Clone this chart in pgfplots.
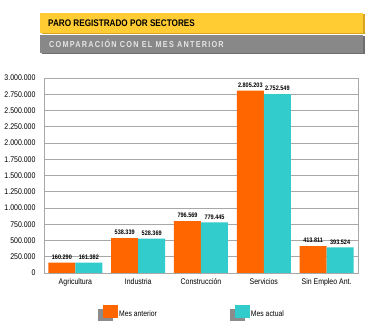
\documentclass[border=0pt]{standalone}
\usepackage{pgfplots}
\pgfplotsset{compat=1.18}
\usepackage{fontspec}
\setmainfont{Liberation Sans}[FakeStretch=0.85]
\definecolor{cOrange}{HTML}{FF6600}
\definecolor{cCyan}{HTML}{33CCCC}
\definecolor{cYellow}{HTML}{FFCC33}
\definecolor{cYellowDark}{HTML}{D9A521}
\definecolor{cGrayBar}{HTML}{888888}
\definecolor{cGrayDark}{HTML}{6E6E6E}
\definecolor{cGrid}{HTML}{A8A8A8}
\definecolor{cShadow}{HTML}{8C8C8C}
\begin{document}
\begin{tikzpicture}
\useasboundingbox[fill=white] (0bp,0bp) rectangle (374bp,335bp);
% banners
\fill[cYellowDark] (41.5bp,300.5bp) rectangle (364.5bp,320.5bp);
\fill[cYellow] (40bp,302bp) rectangle (363bp,322bp);
\node[anchor=west, inner sep=0pt, font=\fontsize{9.6bp}{10bp}\selectfont\bfseries] at (48bp,311.5bp) {PARO REGISTRADO POR SECTORES};
\fill[cGrayDark] (41.5bp,280.5bp) rectangle (364.5bp,298.5bp);
\fill[cGrayBar] (40bp,282bp) rectangle (363bp,300bp);
\node[anchor=west, inner sep=0pt, text=white!90!black, font=\fontsize{8.6bp}{9bp}\selectfont\bfseries] at (49bp,291bp) {\addfontfeature{LetterSpace=14}COMPARACIÓN CON EL MES ANTERIOR};
\begin{axis}[
  at={(44bp,62bp)}, anchor=south west, scale only axis,
  width=314bp, height=195bp,
  xmin=-0.5, xmax=4.5, ymin=0, ymax=3000000,
  xtick={0,1,2,3,4},
  xticklabels={Agricultura,Industria,Construcción,Servicios,Sin Empleo Ant.},
  ytick={0,250000,500000,750000,1000000,1250000,1500000,1750000,2000000,2250000,2500000,2750000,3000000},
  scaled y ticks=false,
  yticklabel style={xshift=-5bp, /pgf/number format/.cd, fixed, 1000 sep={.}, assume math mode=true},
  xticklabel style={yshift=-2bp},
  tick label style={font=\fontsize{8.2bp}{9bp}\selectfont},
  ymajorgrids, grid style={cGrid, line width=0.7bp},
  axis line style={cGrid, line width=0.7bp},
  major tick length=0pt,
  ybar=0pt, bar width=27bp,
  point meta=explicit symbolic,
  nodes near coords,
  nodes near coords style={font=\fontsize{6.5bp}{7bp}\selectfont\bfseries, inner sep=1bp, yshift=2bp},
  legend columns=2,
  legend image code/.code={
    \fill[cShadow] (0bp,-7bp) rectangle (15bp,5bp);
    \fill (5bp,-3.5bp) rectangle (20bp,9.5bp);
  },
  legend style={draw=none, fill=none, at={(0.172,-0.205)}, anchor=west,
    inner sep=0pt, font=\fontsize{8bp}{9bp}\selectfont,
    nodes={inner sep=1bp},
    /tikz/every even column/.append style={column sep=72bp}},
]
\addplot[fill=cOrange, draw=none] coordinates {
  (0,160290) [160.290]
  (1,538339) [538.339]
  (2,796569) [796.569]
  (3,2805203) [2.805.203]
  (4,413811) [413.811]
};
\addlegendentry{Mes anterior}
\addplot[fill=cCyan, draw=none] coordinates {
  (0,161382) [161.382]
  (1,528369) [528.369]
  (2,779445) [779.445]
  (3,2752549) [2.752.549]
  (4,393524) [393.524]
};
\addlegendentry{Mes actual}
\end{axis}
\end{tikzpicture}
\end{document}
